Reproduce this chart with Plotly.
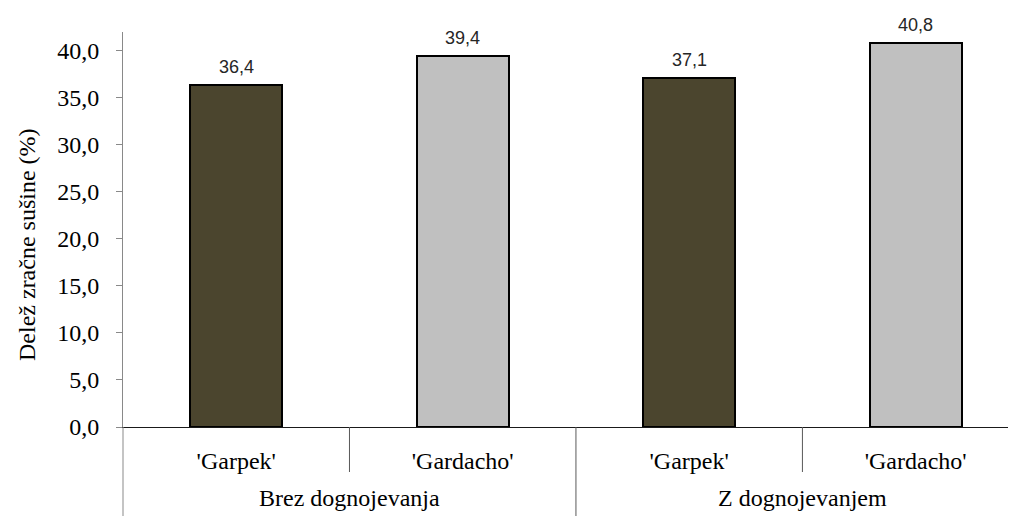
import plotly.graph_objects as go

# ---- data ----
groups = ["Brez dognojevanja", "Brez dognojevanja", "Z dognojevanjem", "Z dognojevanjem"]
varieties = ["'Garpek'", "'Gardacho'", "'Garpek'", "'Gardacho'"]
values = [36.4, 39.4, 37.1, 40.8]
group_labels = ["Brez dognojevanja", "Z dognojevanjem"]
y_title = "Delež zračne sušine (%)"

# ---- style ----
variety_colors = {"'Garpek'": "#4B452E", "'Gardacho'": "#C0C0C0"}
serif = "Liberation Serif"
sans = "Liberation Sans"

keys = [f"{g}|{v}" for g, v in zip(groups, varieties)]
colors = [variety_colors[v] for v in varieties]

fig = go.Figure()
fig.add_trace(go.Bar(
    x=keys, y=values,
    marker=dict(color=colors, line=dict(color="#000000", width=2)),
    width=0.407,
    hoverinfo="skip",
    showlegend=False,
))

# data labels
for k, v in zip(keys, values):
    fig.add_annotation(
        x=k, y=v, xref="x", yref="y",
        text=f"{v:.1f}".replace(".", ","),
        showarrow=False, yanchor="bottom", yshift=6,
        font=dict(family=sans, size=18, color="#262626"),
    )

# outer group labels, centred between their categories
n_inner = len(keys) // len(group_labels)
for gi, gl in enumerate(group_labels):
    center = gi * n_inner + (n_inner - 1) / 2
    fig.add_annotation(
        x=center, y=0, xref="x", yref="y",
        text=gl, showarrow=False, yanchor="middle", yshift=-71,
        font=dict(family=serif, size=24, color="#000000"),
    )

# y-axis title
fig.add_annotation(
    x=0, y=0.4608, xref="paper", yref="paper",
    text=y_title, textangle=-90, showarrow=False,
    xanchor="center", yanchor="middle", xshift=-96,
    font=dict(family=serif, size=24, color="#000000"),
)

div_color = "#595959"
# inner dividers (between varieties) and outer dividers (between groups)
for i in range(len(keys) - 1):
    b = i + 0.5
    outer = (i + 1) % n_inner == 0
    fig.add_shape(
        type="line", xref="x", yref="paper",
        x0=b, x1=b, y0=0, y1=(-0.3 if outer else -45 / 395),
        line=dict(color=div_color, width=1),
    )
# extension of the y axis line below the plot
fig.add_shape(
    type="line", xref="paper", yref="paper",
    x0=0, x1=0, y0=0, y1=-0.3,
    line=dict(color="#898989", width=1),
)

# the page body has an 8px margin, so the figure is 8px smaller and shifted
fig.update_layout(
    width=1008, height=508,
    margin=dict(l=115, r=0, t=24, b=89, pad=0),
    paper_bgcolor="white", plot_bgcolor="white",
    separators=", ",
    bargap=0,
    xaxis=dict(
        type="category",
        categoryorder="array", categoryarray=keys,
        tickvals=keys, ticktext=varieties,
        range=[-0.5, 3.443],
        showline=True, linecolor="#1a1a1a", linewidth=1,
        ticks="", showgrid=False, zeroline=False,
        tickfont=dict(family=serif, size=24, color="#000000"),
        ticklabelstandoff=12,
    ),
    yaxis=dict(
        range=[0, 42], dtick=5, tick0=0, tickformat=".1f",
        showline=True, linecolor="#898989", linewidth=1,
        ticks="outside", ticklen=6, tickcolor="#898989",
        showgrid=False, zeroline=False,
        tickfont=dict(family=serif, size=24, color="#000000"),
        ticklabelstandoff=12,
    ),
)

fig.write_html("out.html")
